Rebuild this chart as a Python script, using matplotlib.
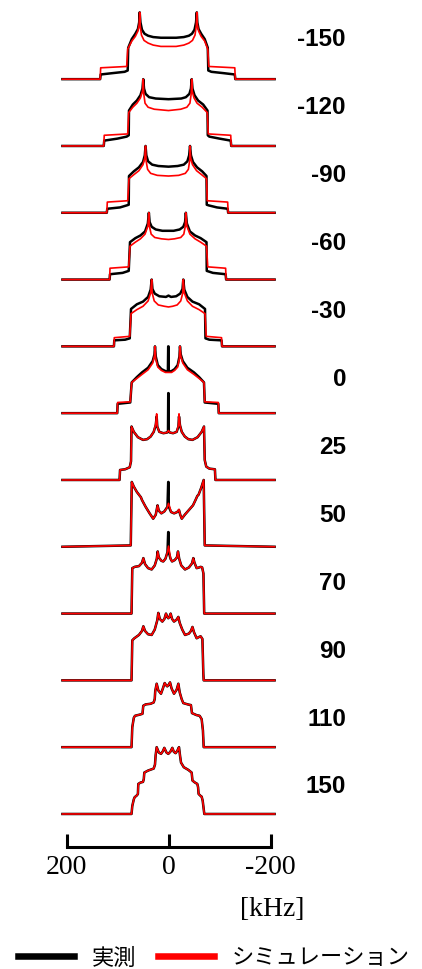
import matplotlib
matplotlib.use("Agg")
import matplotlib.pyplot as plt
from matplotlib.lines import Line2D

# temperature labels, top to bottom
temps = ["-150", "-120", "-90", "-60", "-30", "0", "25", "50", "70", "90", "110", "150"]

# spectra as (kHz, relative intensity) vertices
exp_m150 = [(208, 0), (134, 0), (133, 0.07), (110, 0.09), (86, 0.11), (80, 0.13), (79, 0.47), (72, 0.60),
            (65, 0.68), (60, 0.75), (57.5, 0.85), (56.5, 1.0), (55, 0.85), (52, 0.74), (47, 0.68), (40, 0.65),
            (30, 0.63), (15, 0.62), (0, 0.62), (-15, 0.62), (-30, 0.63), (-40, 0.65), (-46, 0.68), (-51, 0.74),
            (-54, 0.85), (-55.5, 1.0), (-56.5, 0.85), (-59, 0.75), (-64, 0.68), (-71, 0.60), (-77, 0.47),
            (-78, 0.13), (-84, 0.11), (-108, 0.09), (-130, 0.07), (-131, 0), (-208, 0)]
sim_m150 = [(208, 0), (134, 0), (133, 0.17), (82, 0.19), (80, 0.45), (72, 0.57), (65, 0.64), (60, 0.72),
            (57.5, 0.82), (56.5, 1.0), (55.5, 0.80), (53, 0.66), (48, 0.58), (40, 0.54), (30, 0.51), (15, 0.49),
            (0, 0.49), (-15, 0.49), (-30, 0.51), (-40, 0.54), (-47, 0.58), (-52, 0.66), (-54.5, 0.80),
            (-55.5, 1.0), (-56.5, 0.82), (-59, 0.72), (-64, 0.64), (-71, 0.57), (-77, 0.45), (-79, 0.19),
            (-130, 0.17), (-131, 0), (-208, 0)]

exp_m120 = [(208, 0), (127, 0), (126, 0.08), (100, 0.11), (82, 0.14), (78, 0.16), (77.5, 0.53), (70, 0.62),
            (62, 0.68), (55, 0.76), (51, 0.86), (49.5, 1.0), (48, 0.86), (45, 0.78), (38, 0.73), (25, 0.71),
            (0, 0.70), (-25, 0.71), (-34, 0.73), (-41, 0.78), (-44, 0.86), (-45.5, 1.0), (-47, 0.86),
            (-51, 0.76), (-58, 0.68), (-68, 0.62), (-76.5, 0.53), (-77, 0.16), (-80, 0.14), (-100, 0.11),
            (-122, 0.08), (-123, 0), (-208, 0)]
sim_m120 = [(208, 0), (127, 0), (126, 0.16), (80, 0.18), (78, 0.50), (70, 0.58), (62, 0.64), (55, 0.72),
            (51, 0.82), (49.5, 1.0), (48.5, 0.78), (46, 0.64), (40, 0.58), (28, 0.55), (0, 0.53), (-24, 0.55),
            (-36, 0.58), (-42, 0.64), (-44.5, 0.78), (-45.5, 1.0), (-46.5, 0.82), (-50, 0.72), (-56, 0.64),
            (-66, 0.58), (-76, 0.50), (-78, 0.18), (-122, 0.16), (-123, 0), (-208, 0)]

exp_m90 = [(208, 0), (121, 0), (120, 0.06), (95, 0.08), (82, 0.11), (78, 0.12), (77.5, 0.55), (68, 0.62),
           (58, 0.68), (50, 0.76), (46.5, 0.86), (45, 1.0), (43.5, 0.86), (40, 0.77), (32, 0.72), (20, 0.70),
           (0, 0.69), (-18, 0.70), (-30, 0.72), (-37, 0.77), (-40.5, 0.86), (-42.2, 1.0), (-44, 0.86),
           (-48, 0.76), (-56, 0.68), (-66, 0.62), (-74.5, 0.55), (-75, 0.12), (-79, 0.11), (-95, 0.08),
           (-116, 0.06), (-117, 0), (-208, 0)]
sim_m90 = [(208, 0), (121, 0), (120, 0.16), (80, 0.18), (77.5, 0.51), (68, 0.57), (58, 0.63), (50, 0.72),
           (46.5, 0.82), (45, 1.0), (44, 0.78), (41, 0.65), (35, 0.59), (22, 0.56), (0, 0.55), (-20, 0.56),
           (-33, 0.59), (-39, 0.65), (-41.5, 0.78), (-42.2, 1.0), (-43.5, 0.82), (-47, 0.72), (-55, 0.63),
           (-65, 0.57), (-74.5, 0.51), (-76, 0.18), (-116, 0.16), (-117, 0), (-208, 0)]

exp_m60 = [(208, 0), (115.5, 0), (114.7, 0.08), (90, 0.10), (78, 0.13), (75.5, 0.56), (65, 0.62), (55, 0.66),
           (46, 0.72), (40.5, 0.84), (38.5, 1.0), (37, 0.86), (33, 0.79), (25, 0.75), (12, 0.73), (0, 0.73),
           (-10, 0.73), (-22, 0.75), (-29, 0.79), (-32.5, 0.86), (-34, 1.0), (-36, 0.84), (-42, 0.72),
           (-52, 0.66), (-63, 0.62), (-74.5, 0.56), (-75, 0.13), (-87, 0.10), (-112, 0.08), (-113, 0), (-208, 0)]
sim_m60 = [(208, 0), (115.5, 0), (114.7, 0.17), (78, 0.19), (75.5, 0.50), (65, 0.56), (55, 0.61), (46, 0.68),
           (40.5, 0.80), (38.5, 1.0), (37.5, 0.80), (34, 0.68), (27, 0.63), (14, 0.61), (0, 0.60), (-12, 0.61),
           (-24, 0.63), (-30, 0.68), (-33, 0.80), (-34, 1.0), (-36, 0.80), (-42, 0.68), (-52, 0.61),
           (-63, 0.56), (-74.5, 0.50), (-77, 0.19), (-112, 0.17), (-113, 0), (-208, 0)]

exp_m30 = [(208, 0), (107, 0), (106.3, 0.09), (85, 0.10), (76, 0.12), (73.5, 0.56), (62, 0.63), (50, 0.67),
           (40, 0.74), (35, 0.85), (33, 1.0), (31.5, 0.86), (27, 0.79), (18, 0.75), (5, 0.74), (0, 0.76),
           (-5, 0.74), (-15, 0.75), (-23, 0.79), (-27.5, 0.86), (-29, 1.0), (-31, 0.85), (-37, 0.74),
           (-47, 0.67), (-60, 0.63), (-71.6, 0.56), (-72.5, 0.12), (-80, 0.10), (-104, 0.09), (-105, 0), (-208, 0)]
sim_m30 = [(208, 0), (107, 0), (106.3, 0.13), (76, 0.15), (73.5, 0.49), (62, 0.55), (50, 0.60), (40, 0.68),
           (35, 0.80), (33, 1.0), (32, 0.80), (28, 0.68), (20, 0.62), (8, 0.60), (0, 0.59), (-8, 0.60),
           (-17, 0.62), (-24, 0.68), (-28, 0.80), (-29, 1.0), (-31, 0.80), (-37, 0.68), (-47, 0.60),
           (-60, 0.55), (-71.6, 0.49), (-74, 0.15), (-104, 0.13), (-105, 0), (-208, 0)]

exp_0 = [(208, 0), (100.5, 0), (99.7, 0.14), (75, 0.16), (72.2, 0.46), (62, 0.54), (52, 0.61), (40, 0.68),
         (31, 0.78), (27.5, 0.88), (26.5, 1.0), (25, 0.85), (21, 0.72), (14, 0.66), (6, 0.63), (1.2, 0.62),
         (0.6, 1.0), (0, 1.0), (-0.6, 0.62), (-6, 0.63), (-12, 0.66), (-18, 0.72), (-21.5, 0.85), (-22.5, 1.0),
         (-24, 0.88), (-28, 0.78), (-37, 0.68), (-50, 0.61), (-60, 0.54), (-69.6, 0.46), (-71, 0.16),
         (-97.7, 0.14), (-98.5, 0), (-208, 0)]
sim_0 = [(208, 0), (100.5, 0), (99.7, 0.16), (75, 0.17), (72.2, 0.46), (62, 0.52), (52, 0.58), (40, 0.65),
         (31, 0.75), (27.5, 0.86), (26.5, 1.0), (25.2, 0.82), (21, 0.69), (14, 0.64), (6, 0.61), (0, 0.61),
         (-6, 0.61), (-12, 0.64), (-18, 0.69), (-21.3, 0.82), (-22.5, 1.0), (-24, 0.86), (-28, 0.75),
         (-37, 0.65), (-50, 0.58), (-60, 0.52), (-69.6, 0.46), (-71, 0.17), (-97.7, 0.16), (-98.5, 0), (-208, 0)]

exp_25 = [(208, 0), (96, 0), (95, 0.15), (85, 0.16), (76, 0.19), (73.5, 0.28), (72.5, 0.80), (68, 0.72),
          (60, 0.64), (50, 0.60), (42, 0.61), (35, 0.65), (29, 0.72), (25, 0.82), (23.2, 0.95), (22, 0.80),
          (18, 0.72), (10, 0.70), (3, 0.71), (1, 0.72), (0.5, 1.30), (-0.1, 1.30), (-0.6, 0.72), (-3, 0.71),
          (-9, 0.70), (-16, 0.72), (-19.5, 0.80), (-20.6, 0.95), (-22.5, 0.82), (-26, 0.72), (-32, 0.65),
          (-39, 0.61), (-47, 0.60), (-57, 0.64), (-65, 0.72), (-69.6, 0.80), (-71, 0.30), (-74, 0.20),
          (-80, 0.17), (-91, 0.16), (-92, 0), (-208, 0)]
sim_25 = [(208, 0), (96, 0), (95, 0.15), (85, 0.16), (76, 0.19), (73.5, 0.28), (72.5, 0.80), (68, 0.72),
          (60, 0.64), (50, 0.60), (42, 0.61), (35, 0.65), (29, 0.72), (25, 0.84), (23.2, 0.99), (22, 0.80),
          (18, 0.72), (10, 0.70), (3, 0.71), (0, 0.74), (-3, 0.71), (-9, 0.70), (-16, 0.72), (-19.5, 0.82),
          (-20.6, 0.99), (-22.5, 0.82), (-26, 0.72), (-32, 0.65), (-39, 0.61), (-47, 0.60), (-57, 0.64),
          (-65, 0.72), (-69.6, 0.80), (-71, 0.30), (-74, 0.20), (-80, 0.17), (-91, 0.16), (-92, 0), (-208, 0)]

exp_50 = [(208, 0), (74, 0.02), (72, 0.97), (68, 0.90), (62, 0.82), (56, 0.76), (54, 0.74), (52, 0.70),
          (45, 0.60), (37, 0.50), (30, 0.42), (25, 0.48), (21.5, 0.62), (19, 0.54), (14, 0.50), (8, 0.53),
          (2, 0.60), (0.6, 0.97), (0, 0.97), (-0.6, 0.60), (-5, 0.52), (-11, 0.50), (-17, 0.52), (-20.6, 0.55),
          (-23, 0.48), (-26, 0.42), (-32, 0.48), (-40, 0.55), (-48, 0.62), (-53, 0.70), (-56.5, 0.76),
          (-59, 0.78), (-64, 0.88), (-69, 1.0), (-71, 0.02), (-208, 0)]
sim_50 = [(208, 0), (74, 0.02), (72, 0.97), (68, 0.90), (62, 0.82), (56, 0.76), (54, 0.74), (52, 0.70),
          (45, 0.60), (37, 0.50), (30, 0.42), (25, 0.48), (21.5, 0.62), (19, 0.54), (14, 0.50), (8, 0.53),
          (3, 0.58), (0, 0.65), (-3, 0.58), (-5, 0.52), (-11, 0.50), (-17, 0.52), (-20.6, 0.56), (-23, 0.48),
          (-26, 0.42), (-32, 0.48), (-40, 0.55), (-48, 0.62), (-53, 0.70), (-56.5, 0.76), (-59, 0.78),
          (-64, 0.88), (-69, 1.0), (-71, 0.02), (-208, 0)]

exp_70 = [(208, 0), (72.5, 0), (71, 0.68), (66, 0.70), (58, 0.71), (52, 0.76), (49.3, 0.83), (46, 0.74),
          (40, 0.68), (33, 0.66), (27, 0.72), (23, 0.82), (21.2, 0.93), (19, 0.84), (14, 0.79), (10.3, 0.78),
          (6, 0.82), (2, 0.92), (0.6, 1.22), (0, 1.22), (-0.6, 0.92), (-4, 0.82), (-7, 0.78), (-12, 0.80),
          (-16.5, 0.84), (-18.6, 0.93), (-21, 0.82), (-25, 0.72), (-32.4, 0.66), (-40, 0.69), (-46, 0.75),
          (-48.7, 0.83), (-51, 0.76), (-55.2, 0.68), (-60, 0.69), (-63, 0.70), (-66, 0.69), (-68.5, 0.60),
          (-70, 0), (-208, 0)]
sim_70 = [(208, 0), (72.5, 0), (71, 0.68), (66, 0.70), (58, 0.71), (52, 0.76), (49.3, 0.83), (46, 0.74),
          (40, 0.68), (33, 0.66), (27, 0.72), (23, 0.82), (21.2, 0.93), (19, 0.84), (14, 0.79), (10.3, 0.78),
          (6, 0.82), (2, 0.92), (0, 1.01), (-2, 0.92), (-4, 0.82), (-7, 0.78), (-12, 0.80), (-16.5, 0.84),
          (-18.6, 0.93), (-21, 0.82), (-25, 0.72), (-32.4, 0.66), (-40, 0.69), (-46, 0.75), (-48.7, 0.83),
          (-51, 0.76), (-55.2, 0.68), (-60, 0.69), (-63, 0.70), (-66, 0.69), (-68.5, 0.60), (-70, 0), (-208, 0)]

# from 90 up the two traces lie on top of each other
exp_90 = [(208, 0), (72.5, 0), (71, 0.60), (67, 0.63), (58, 0.68), (52, 0.74), (49.3, 0.81), (46, 0.74),
          (40, 0.69), (33, 0.68), (27, 0.76), (22, 0.90), (20, 1.01), (17, 0.92), (12.1, 0.88), (8, 0.92),
          (4.9, 1.0), (2.5, 0.95), (0.4, 0.93), (-1.8, 0.95), (-4.2, 1.0), (-7, 0.92), (-10.8, 0.88),
          (-16, 0.91), (-19.3, 0.95), (-22, 0.86), (-27, 0.76), (-32.4, 0.68), (-40, 0.70), (-44, 0.74),
          (-47, 0.80), (-50, 0.72), (-55.2, 0.63), (-60, 0.65), (-63, 0.66), (-66.5, 0.62), (-68.3, 0.1),
          (-69, 0), (-208, 0)]
sim_90 = exp_90

exp_110 = [(208, 0), (72.5, 0), (71, 0.30), (68, 0.44), (65.7, 0.47), (55, 0.49), (51, 0.50), (49.5, 0.62),
           (45, 0.64), (35, 0.65), (29, 0.67), (27, 0.72), (26, 0.84), (23.2, 0.95), (20, 0.85), (14.7, 0.80),
           (11, 0.88), (7.5, 0.96), (5, 0.93), (2.5, 0.91), (0, 0.93), (-3, 0.97), (-6, 0.88), (-10.8, 0.80),
           (-16, 0.86), (-19.3, 0.95), (-22, 0.82), (-25.8, 0.72), (-29, 0.66), (-38, 0.64), (-44, 0.63),
           (-46, 0.51), (-55, 0.48), (-61, 0.47), (-65, 0.42), (-67.5, 0.25), (-69, 0), (-208, 0)]
sim_110 = exp_110

exp_150 = [(208, 0), (72.5, 0), (71, 0.12), (68, 0.22), (66.4, 0.25), (61.8, 0.28), (60, 0.30), (59.2, 0.45),
           (55, 0.47), (50, 0.48), (48.5, 0.52), (47.4, 0.62), (40, 0.65), (29, 0.68), (26.5, 0.74),
           (25.2, 0.88), (23.2, 1.0), (19, 0.92), (14.7, 0.90), (11, 0.94), (8.2, 0.99), (4, 0.92),
           (0.4, 0.90), (-3.5, 0.93), (-7.5, 0.99), (-10.5, 0.93), (-14, 0.91), (-17.5, 0.95), (-20.6, 1.0),
           (-22.5, 0.88), (-24.5, 0.77), (-30, 0.70), (-38.9, 0.66), (-45.4, 0.62), (-47, 0.50), (-52, 0.47),
           (-56.5, 0.45), (-58, 0.40), (-59, 0.30), (-63, 0.27), (-65, 0.26), (-67, 0.20), (-70.2, 0), (-208, 0)]
sim_150 = exp_150

exp_all = [exp_m150, exp_m120, exp_m90, exp_m60, exp_m30, exp_0, exp_25, exp_50, exp_70, exp_90, exp_110, exp_150]
sim_all = [sim_m150, sim_m120, sim_m90, sim_m60, sim_m30, sim_0, sim_25, sim_50, sim_70, sim_90, sim_110, sim_150]

scale_ticks = [200, 0, -200]
legend_labels = ["実測", "シミュレーション"]

W, H = 422, 970
fig = plt.figure(figsize=(W / 100, H / 100), dpi=100)
ax = fig.add_axes([58.85 / W, 110 / H, 219.3 / W, 860 / H])
ax.set_xlim(215, -215)
ax.set_ylim(-0.674, 12.2)

n = len(temps)
for i in range(n):
    off = n - 1 - i
    fe = [p[0] for p in exp_all[i]]
    ye = [p[1] + off for p in exp_all[i]]
    fs = [p[0] for p in sim_all[i]]
    ys = [p[1] + off for p in sim_all[i]]
    ax.plot(fe, ye, color="black", lw=1.8, solid_joinstyle="round")
    ax.plot(fs, ys, color="red", lw=1.2, solid_joinstyle="round")
    fig.text(346 / W, 1 - (40 + 67.9 * i) / H, temps[i], ha="right", va="center",
             family="Liberation Sans", weight="bold", fontsize=17.5)

# scale bar drawn as the bottom spine
for s in ["top", "left", "right"]:
    ax.spines[s].set_visible(False)
ax.spines["bottom"].set_position(("data", -0.4985))
ax.spines["bottom"].set_bounds(-200, 200)
ax.spines["bottom"].set_linewidth(2.2)
ax.set_yticks([])
ax.set_xticks(scale_ticks)
ax.set_xticklabels([str(t) for t in scale_ticks], family="Liberation Serif", fontsize=20)
ax.tick_params(axis="x", direction="in", length=9.4, width=2.2, pad=5)
ax.patch.set_alpha(0)

fig.text(272.5 / W, 1 - 910 / H, "[kHz]", ha="center", va="center",
         family="Liberation Serif", fontsize=20)

handles = [Line2D([], [], color="black", lw=4.7), Line2D([], [], color="red", lw=4.7)]
fig.legend(handles, legend_labels, loc="center", bbox_to_anchor=(214 / W, 1 - 958 / H), ncol=2,
           frameon=False, handlelength=2.5, handletextpad=0.8, columnspacing=1.0,
           prop={"family": ["Noto Sans CJK JP", "DejaVu Sans"], "size": 16})

fig.savefig("out.png", dpi=100)
